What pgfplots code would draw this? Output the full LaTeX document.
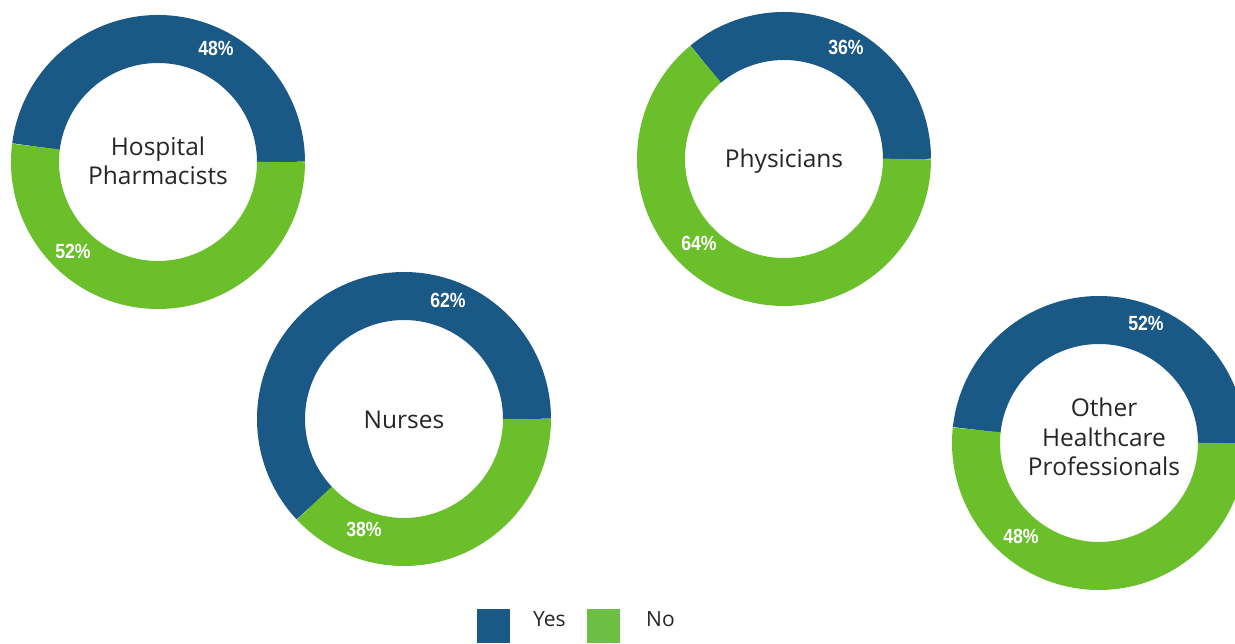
\documentclass[border=0pt]{standalone}
\usepackage{pgfplots}
\pgfplotsset{compat=1.18}
\usepackage{pgfplotstable}
\usepgfplotslibrary{polar}
\usepackage{fontspec}
\setmainfont{Open Sans}
\newfontfamily\pctfont{Liberation Sans}[FakeStretch=0.86]
\definecolor{ringblue}{HTML}{1A5886}
\definecolor{ringgreen}{HTML}{6ABF2B}
\definecolor{leggreen}{HTML}{6CBE45}
\definecolor{txt}{HTML}{262626}

% chart  yes(%) -- share of ring drawn as "Yes" (blue)
\pgfplotstableread{
chart cx cy yes
1 158 162 48
2 404 419 62
3 784 159 36
4 1099 443 48.3
}\donutdata

\pgfplotsset{donut/.style={
  hide axis, scale only axis, width=294pt, height=294pt,
  ymin=0, ymax=147, xmin=0, xmax=360, clip=false, anchor=origin}}

\newcommand{\donut}[1]{%
  \pgfplotstablegetelem{#1}{cx}\of\donutdata \edef\cx{\pgfplotsretval}%
  \pgfplotstablegetelem{#1}{cy}\of\donutdata \edef\cy{\pgfplotsretval}%
  \pgfplotstablegetelem{#1}{yes}\of\donutdata \edef\yv{\pgfplotsretval}%
  \pgfmathsetmacro\yang{3.6*\yv}%
  \begin{polaraxis}[donut, at={(\cx pt,{(644-\cy)*1pt})}]
    \addplot[domain=0:\yang, samples=120, line width=48pt, color=ringblue, no markers] {123};
    \addplot[domain=\yang:360, samples=160, line width=48pt, color=ringgreen, no markers] {123};
  \end{polaraxis}%
}

\begin{document}
\begin{tikzpicture}[x=1pt,y=1pt]
\useasboundingbox (0,0) rectangle (1235,644);
\clip (0,0) rectangle (1235,644);
\fill[white] (0,0) rectangle (1235,644);

\donut{0}
\donut{1}
\donut{2}
\donut{3}

% centre labels
\tikzset{ctr/.style={text=txt, align=center, font=\fontsize{24.5}{29.5}\selectfont}}
\node[ctr] at (158,644-161) {Hospital\\Pharmacists};
\node[ctr] at (404,644-420) {Nurses};
\node[ctr] at (784,644-161) {Physicians};
\node[ctr] at (1104,644-437) {Other\\Healthcare\\Professionals};

% percentage labels
\tikzset{pct/.style={text=white, font=\pctfont\bfseries\fontsize{20.5}{22}\selectfont}}
\node[pct] at (216,644-48) {48\%};
\node[pct] at (73,644-251) {52\%};
\node[pct] at (846,644-47) {36\%};
\node[pct] at (699,644-243) {64\%};
\node[pct] at (448,644-300) {62\%};
\node[pct] at (364,644-529) {38\%};
\node[pct] at (1146,644-323) {52\%};
\node[pct] at (1021,644-536) {48\%};

% legend
\fill[ringblue] (477,644-643) rectangle (510,644-609);
\fill[leggreen] (587,644-643) rectangle (620,644-609);
\node[anchor=base west, text=txt, font=\fontsize{21}{24}\selectfont, inner sep=0pt] at (533,644-627) {Yes};
\node[anchor=base west, text=txt, font=\fontsize{21}{24}\selectfont, inner sep=0pt] at (646,644-627) {No};
\end{tikzpicture}
\end{document}
